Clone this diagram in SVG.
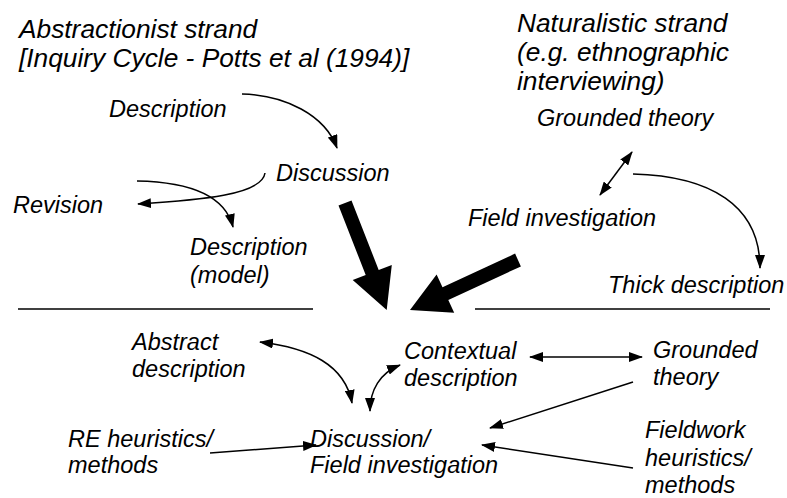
<svg xmlns="http://www.w3.org/2000/svg" width="787" height="498" viewBox="0 0 787 498">
<style>
text{font-family:"Liberation Sans",Arial,sans-serif;font-style:italic;fill:#000}
.t{font-size:26.3px}
.l{font-size:23.5px}
.c{fill:none;stroke:#000;stroke-width:1.5}
.r{stroke:#000;stroke-width:1.5}
</style>
<defs>
<marker id="ah" viewBox="0 0 14 10" refX="13" refY="5" markerWidth="14" markerHeight="10" markerUnits="userSpaceOnUse" orient="auto-start-reverse">
<path d="M0,0 L14,5 L0,10 z" fill="#000"/>
</marker>
</defs>
<rect width="787" height="498" fill="#fff"/>
<g id="title-abstractionist">
<text class="t" x="19" y="38">Abstractionist strand</text>
<text class="t" x="19" y="67">[Inquiry Cycle - Potts et al (1994)]</text>
</g>
<g id="title-naturalistic">
<text class="t" x="517" y="32">Naturalistic strand</text>
<text class="t" x="517" y="61">(e.g. ethnographic</text>
<text class="t" x="517" y="90">interviewing)</text>
</g>
<g id="n-description"><text class="l" x="109" y="117">Description</text></g>
<g id="n-discussion"><text class="l" x="276" y="181">Discussion</text></g>
<g id="n-revision"><text class="l" x="13" y="213">Revision</text></g>
<g id="n-description-model">
<text class="l" x="190" y="255">Description</text>
<text class="l" x="190" y="283">(model)</text>
</g>
<g id="n-grounded-top"><text class="l" x="537" y="126">Grounded theory</text></g>
<g id="n-field-top"><text class="l" x="468" y="226">Field investigation</text></g>
<g id="n-thick"><text class="l" x="608" y="293">Thick description</text></g>
<g id="n-abstract">
<text class="l" x="132" y="350">Abstract</text>
<text class="l" x="132" y="377">description</text>
</g>
<g id="n-contextual">
<text class="l" x="404" y="359">Contextual</text>
<text class="l" x="404" y="386">description</text>
</g>
<g id="n-grounded-bottom">
<text class="l" x="653" y="358">Grounded</text>
<text class="l" x="653" y="385">theory</text>
</g>
<g id="n-re">
<text class="l" x="68" y="447">RE heuristics/</text>
<text class="l" x="68" y="473">methods</text>
</g>
<g id="n-discussion-field">
<text class="l" x="310" y="447">Discussion/</text>
<text class="l" x="310" y="473">Field investigation</text>
</g>
<g id="n-fieldwork">
<text class="l" x="645" y="438">Fieldwork</text>
<text class="l" x="645" y="466">heuristics/</text>
<text class="l" x="645" y="493">methods</text>
</g>
<g id="connectors">
<line class="r" x1="18" y1="309" x2="313" y2="309"/>
<line class="r" x1="475" y1="309" x2="770" y2="309"/>
<path class="c" d="M242,94 C285,95 325,115 337,148" marker-end="url(#ah)"/>
<path class="c" d="M265,173 C262,195 200,200 138,204" marker-end="url(#ah)"/>
<path class="c" d="M137,181 C190,182 225,195 233,227" marker-end="url(#ah)"/>
<path class="c" d="M600,195 L632,152" marker-start="url(#ah)" marker-end="url(#ah)"/>
<path class="c" d="M633,174 C710,176 760,205 760,268" marker-end="url(#ah)"/>
<polygon points="338.5,205.5 351.5,200.5 378.7,270 391.8,264.9 386.7,310 352.7,280.1 365.7,275" fill="#000"/>
<polygon points="520.9,266.4 515.1,253.6 442.5,287.2 436.6,274.5 410,310 454.2,312.7 448.3,300" fill="#000"/>
<path class="c" d="M260,342 C310,348 345,365 352,403" marker-start="url(#ah)" marker-end="url(#ah)"/>
<path class="c" d="M370,411 C370,390 380,373 400,365" marker-start="url(#ah)" marker-end="url(#ah)"/>
<path class="c" d="M530,357 L642,357" marker-start="url(#ah)" marker-end="url(#ah)"/>
<path class="c" d="M633,382 L490,428" marker-end="url(#ah)"/>
<path class="c" d="M633,468 L482,445" marker-end="url(#ah)"/>
<path class="c" d="M210,453 L316,445" marker-end="url(#ah)"/>
</g>
</svg>
